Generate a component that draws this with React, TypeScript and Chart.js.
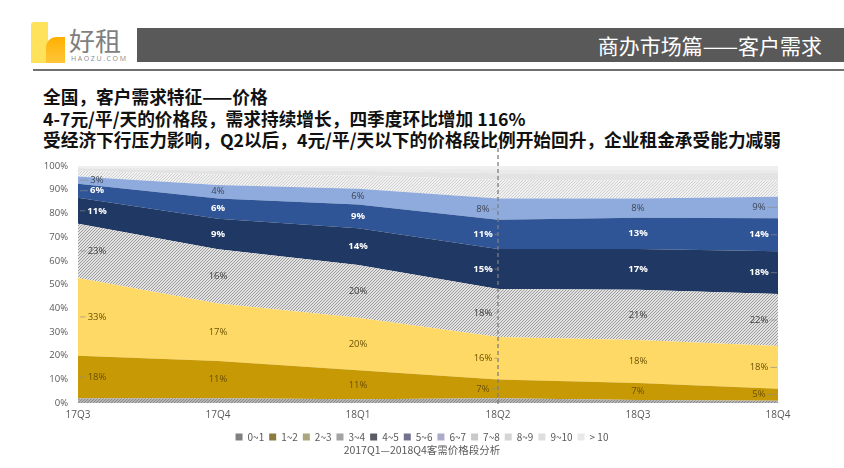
import React, { useEffect, useRef } from 'react';
import { Chart, registerables } from 'chart.js';

Chart.register(...registerables);

// ---- data ----
const quarters = ['17Q3', '17Q4', '18Q1', '18Q2', '18Q3', '18Q4'];
const seriesNames = ['0~1', '1~2', '2~3', '3~4', '4~5', '5~6', '6~7', '7~8', '8~9', '9~10', '> 10'];
const v0to1 = [2, 1.4, 1.4, 1.8, 1.3, 1];
const v1to2 = [18, 11, 11, 7, 7, 5];
const v2to3 = [33, 17, 20, 16, 18, 18];
const v3to4 = [23, 16, 20, 18, 21, 22];
const v4to5 = [11, 9, 14, 15, 17, 18];
const v5to6 = [6, 6, 9, 11, 13, 14];
const v6to7 = [3, 4, 6, 8, 8, 9];
const v7to8 = [2.5, 3, 5, 7, 7.5, 7];
const v8to9 = [1, 1.2, 1.8, 2.5, 3, 3];
const v9to10 = [0.5, 0.7, 1, 1.5, 1.6, 1.5];
const vOver10 = [0.5, 0.7, 0.8, 1.2, 1.5, 1.5];
const labelledSeries = [1, 2, 3, 4, 5, 6];
const yTickLabels = ['0%', '10%', '20%', '30%', '40%', '50%', '60%', '70%', '80%', '90%', '100%'];
const markedQuarter = '18Q2';

const rawSeries = [v0to1, v1to2, v2to3, v3to4, v4to5, v5to6, v6to7, v7to8, v8to9, v9to10, vOver10];

// ---- styles ----
const legendColors = ['#808080', '#8C7A3E', '#ABA67E', '#A3A3A3', '#5B5B66', '#72728E', '#ABABCB', '#C9C9C9', '#D5D5D5', '#DEDEDE', '#E9E9E9'];
const labelColors = ['#404040', '#6B4F00', '#6B5200', '#404040', '#FFFFFF', '#FFFFFF', '#3E4656'];
const CJK = '"Noto Sans CJK SC", "Noto Sans", sans-serif';
const NUM = '"Open Sans", "Noto Sans", sans-serif';

function hatch(bg: string, fg: string, size = 4): CanvasPattern | string {
  const c = document.createElement('canvas');
  c.width = size;
  c.height = size;
  const x = c.getContext('2d');
  if (!x) return bg;
  x.fillStyle = bg;
  x.fillRect(0, 0, size, size);
  x.strokeStyle = fg;
  x.lineWidth = 1;
  x.beginPath();
  x.moveTo(0, size);
  x.lineTo(size, 0);
  x.moveTo(-1, 1);
  x.lineTo(1, -1);
  x.moveTo(size - 1, size + 1);
  x.lineTo(size + 1, size - 1);
  x.stroke();
  const p = x.createPattern(c, 'repeat');
  return p || bg;
}

export default function App() {
  const ref = useRef<HTMLCanvasElement | null>(null);

  useEffect(() => {
    if (!ref.current) return;
    const totals = quarters.map((_, i) => rawSeries.reduce((a, s) => a + s[i], 0));
    const pct = rawSeries.map((s) => s.map((v, i) => (v / totals[i]) * 100));

    const fills: (string | CanvasPattern)[] = [
      hatch('#B4B4B4', '#8A8A8A', 3),
      '#C79A05',
      '#FFD966',
      hatch('#E2E2E2', '#9C9C9C', 3),
      '#203864',
      '#2F5597',
      '#8FAADC',
      hatch('#F1F1F1', '#D0D0D0', 3),
      '#E3E3E3',
      '#EAEAEA',
      '#EFEFEF',
    ];

    const labelPlugin = {
      id: 'bandLabels',
      afterDatasetsDraw(chart: any) {
        const ctx = chart.ctx as CanvasRenderingContext2D;
        const area = chart.chartArea;
        const xs = chart.scales.x;
        const markIdx = quarters.indexOf(markedQuarter);
        const xq = xs.getPixelForValue(markIdx);
        ctx.save();
        ctx.setLineDash([4, 3]);
        ctx.strokeStyle = '#7F7F7F';
        ctx.lineWidth = 1.3;
        ctx.beginPath();
        ctx.moveTo(xq, area.top - 18);
        ctx.lineTo(xq, area.bottom + 3);
        ctx.stroke();
        ctx.setLineDash([]);
        const n = quarters.length;
        labelledSeries.forEach((s) => {
          const meta = chart.getDatasetMeta(s);
          const below = chart.getDatasetMeta(s - 1);
          const white = labelColors[s] === '#FFFFFF';
          ctx.font = `${white ? 'bold' : 'normal'} 9.5px ${NUM}`;
          ctx.textAlign = 'center';
          ctx.textBaseline = 'middle';
          meta.data.forEach((pt: any, i: number) => {
            const yMid = (pt.y + below.data[i].y) / 2;
            let dx = 0;
            if (i === 0) dx = 19;
            else if (i === n - 1) dx = -19;
            else if (i === markIdx) dx = -15;
            const text = `${rawSeries[s][i]}%`;
            const tw = ctx.measureText(text).width;
            const lx = pt.x + dx;
            ctx.fillStyle = labelColors[s];
            ctx.fillText(text, lx, yMid);
            ctx.strokeStyle = 'rgba(140,140,140,0.8)';
            ctx.lineWidth = 0.8;
            ctx.beginPath();
            if (i === 0) {
              ctx.moveTo(pt.x + 2, yMid);
              ctx.lineTo(lx - tw / 2 - 2, yMid);
            } else if (dx < 0) {
              ctx.moveTo(lx + tw / 2 + 2, yMid);
              ctx.lineTo(pt.x - 1, yMid);
            }
            ctx.stroke();
          });
        });
        ctx.restore();
      },
    };

    const chart = new Chart(ref.current, {
      type: 'line',
      data: {
        labels: quarters,
        datasets: seriesNames.map((name, i) => ({
          label: name,
          data: pct[i],
          backgroundColor: fills[i] as any,
          borderWidth: 0,
          pointRadius: 0,
          tension: 0,
          fill: i === 0 ? 'origin' : '-1',
        })),
      },
      options: {
        responsive: false,
        animation: false,
        layout: { padding: { left: 0, right: 0, top: 21, bottom: 16 } },
        plugins: {
          legend: {
            position: 'bottom',
            labels: {
              boxWidth: 7,
              boxHeight: 7,
              padding: 5,
              color: '#595959',
              font: { size: 10, family: CJK },
              generateLabels: () =>
                seriesNames.map((name, i) => ({
                  text: name,
                  fillStyle: legendColors[i],
                  strokeStyle: legendColors[i],
                  lineWidth: 0,
                  hidden: false,
                  datasetIndex: i,
                  fontColor: '#595959',
                })),
            },
          },
          tooltip: { enabled: false },
          title: { display: false },
        },
        scales: {
          x: {
            offset: false,
            grid: { display: false, drawTicks: false },
            border: { display: false },
            ticks: { color: '#595959', font: { size: 10, family: NUM }, padding: 6, maxRotation: 0, autoSkip: false },
            afterFit: (s: any) => {
              s.height = 24;
            },
          },
          y: {
            stacked: true,
            min: 0,
            max: 100,
            grid: { display: false, drawTicks: false },
            border: { display: false },
            ticks: {
              stepSize: 10,
              color: '#595959',
              font: { size: 9.5, family: NUM },
              padding: 10,
              callback: (v: any) => yTickLabels[Math.round(Number(v) / 10)],
            },
            afterFit: (s: any) => {
              s.width = 78;
            },
          },
          yRightSpace: {
            position: 'right',
            display: true,
            min: 0,
            max: 100,
            grid: { display: false, drawTicks: false },
            border: { display: false },
            ticks: { display: false },
            afterFit: (s: any) => {
              s.width = 66;
            },
          },
        },
      },
      plugins: [labelPlugin],
    } as any);
    return () => chart.destroy();
  }, []);

  const line = { position: 'absolute' as const, left: 43, fontSize: 17.7, lineHeight: '21px', fontWeight: 700, color: '#111', whiteSpace: 'nowrap' as const };

  return (
    <div style={{ position: 'absolute', left: 0, top: 0, width: 844, height: 468, background: '#fff', overflow: 'hidden', fontFamily: CJK }}>
      {/* logo */}
      <div style={{ position: 'absolute', left: 31, top: 22, width: 17, height: 41, background: '#FFE25C', borderTopLeftRadius: 3 }} />
      <div style={{ position: 'absolute', left: 46, top: 37, width: 19, height: 26, background: 'linear-gradient(180deg, #FFB000 0%, #FFC63A 100%)', borderTopLeftRadius: 10 }} />
      <div style={{ position: 'absolute', left: 69, top: 26, fontSize: 26, lineHeight: '28px', color: '#7F7F7F' }}>好租</div>
      <div style={{ position: 'absolute', left: 71, top: 55, fontSize: 7, lineHeight: '8px', color: '#8C8C8C', letterSpacing: 1.6, fontFamily: NUM }}>HAOZU.COM</div>
      {/* title bar */}
      <div style={{ position: 'absolute', left: 137, top: 28, width: 707, height: 34, background: '#595959' }} />
      <div style={{ position: 'absolute', right: 22, top: 28, height: 34, lineHeight: '34px', fontSize: 21, color: '#FFFFFF' }}>商办市场篇——客户需求</div>
      <div style={{ position: 'absolute', left: 33, top: 69, width: 811, height: 2, background: '#707070' }} />
      {/* headline text */}
      <div style={{ ...line, top: 86 }}>全国，客户需求特征——价格</div>
      <div style={{ ...line, top: 107.5 }}>4-7元/平/天的价格段，需求持续增长，四季度环比增加 116%</div>
      <div style={{ ...line, top: 129 }}>受经济下行压力影响，Q2以后，4元/平/天以下的价格段比例开始回升，企业租金承受能力减弱</div>
      {/* chart */}
      <canvas ref={ref} width={844} height={323} style={{ position: 'absolute', left: 0, top: 145, width: 844, height: 323 }} />
      <div style={{ position: 'absolute', left: 272, width: 300, top: 443, textAlign: 'center', fontSize: 10.5, lineHeight: '14px', color: '#595959' }}>2017Q1—2018Q4客需价格段分析</div>
    </div>
  );
}
